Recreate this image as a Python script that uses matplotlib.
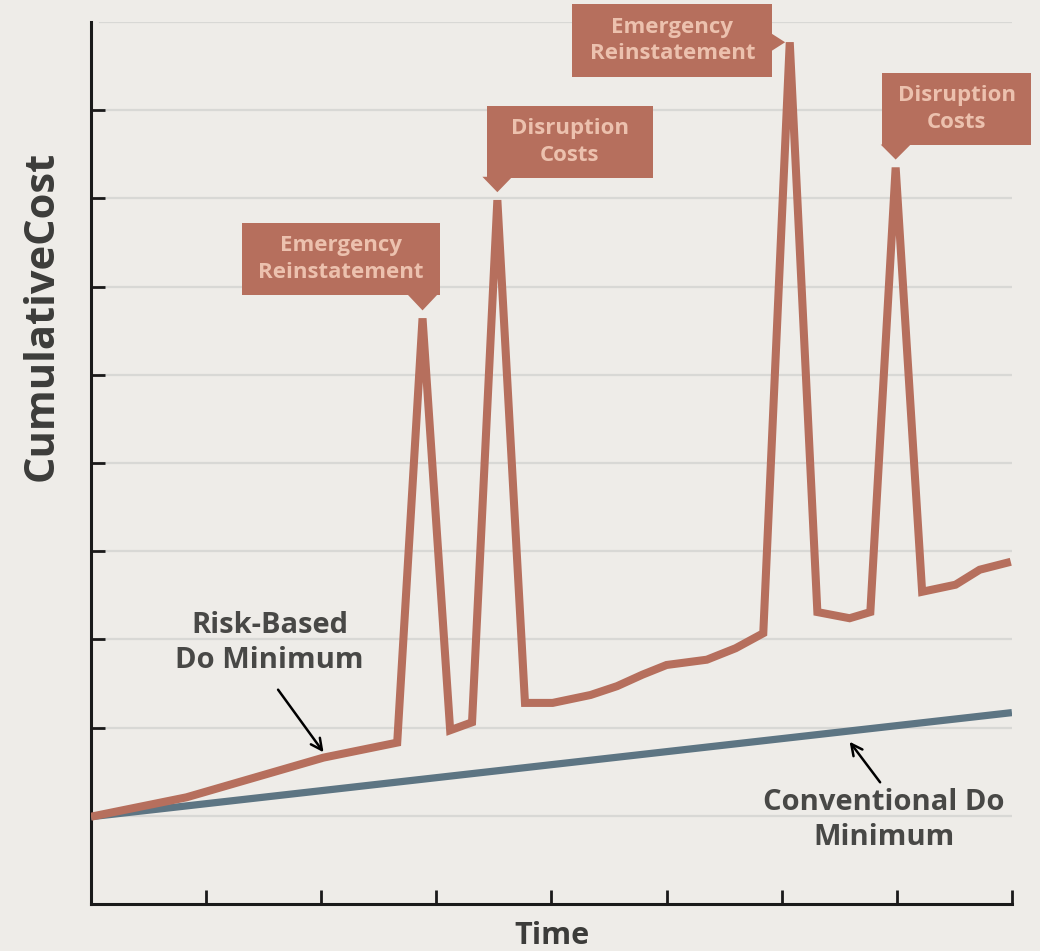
"""
Risk-based vs conventional do-minimum cumulative cost chart
"""
import matplotlib.pyplot as plt
from matplotlib.patches import Rectangle, Polygon

# data (x in time units 0..8, y in cost units 0..10)
conv_x = [0.0, 8.0]
conv_y = [0.99, 2.17]

risk_x = [0.0, 0.83, 2.02, 2.66, 2.88, 3.12, 3.31, 3.53, 3.77, 4.01, 4.34, 4.57,
          4.79, 5.00, 5.35, 5.60, 5.84, 6.07, 6.31, 6.59, 6.77, 6.99, 7.22, 7.51,
          7.72, 7.99]
risk_y = [0.99, 1.21, 1.66, 1.83, 6.64, 1.97, 2.06, 7.98, 2.28, 2.28, 2.37, 2.47,
          2.60, 2.71, 2.77, 2.90, 3.07, 9.77, 3.31, 3.24, 3.31, 8.35, 3.54, 3.62,
          3.79, 3.88]

# callouts: label, index of the peak in risk_x/risk_y, box centre, box size, pointer side
callout_labels = ["Emergency\nReinstatement", "Disruption\nCosts",
                  "Emergency\nReinstatement", "Disruption\nCosts"]
callout_peaks = [4, 7, 17, 21]
callout_centres = [(2.17, 7.31), (4.16, 8.64), (5.05, 9.79), (7.52, 9.01)]
callout_sizes = [(1.72, 0.82), (1.44, 0.81), (1.74, 0.82), (1.29, 0.82)]
callout_sides = ["bottom", "bottom", "right", "bottom"]

BG = "#eeece8"
RED = "#b66f5d"
BLUE = "#5d7583"
TEXT_DARK = "#484846"
BOX_TEXT = "#ecc1ae"

plt.rcParams["font.family"] = ["Open Sans", "DejaVu Sans"]

fig = plt.figure(figsize=(10.4, 9.51), dpi=100, facecolor=BG)
ax = fig.add_axes([0.0875, 0.0494, 0.8855, 0.9275])
ax.set_facecolor(BG)
ax.set_xlim(0, 8)
ax.set_ylim(0, 10)

# grid lines
for gy in range(1, 11):
    ax.axhline(gy, xmin=0.01, xmax=1.0, color="#d8d8d5", lw=1.6, zorder=1)

ax.plot(conv_x, conv_y, color=BLUE, lw=5.2, solid_capstyle="butt", zorder=3)
ax.plot(risk_x, risk_y, color=RED, lw=5.8, solid_joinstyle="miter",
        solid_capstyle="butt", zorder=4)

for s in ["top", "right"]:
    ax.spines[s].set_visible(False)
for s in ["left", "bottom"]:
    ax.spines[s].set_linewidth(2.2)
    ax.spines[s].set_color("#1a1a1a")
ax.set_xticks(range(1, 9))
ax.set_yticks(range(1, 10))
ax.tick_params(direction="in", length=10, width=2, color="#1a1a1a",
               labelleft=False, labelbottom=False)

ax.set_ylabel("CumulativeCost", fontsize=30, fontweight="bold", color="#3c3c3a")
ax.yaxis.set_label_coords(-0.031, 0.667)
ax.set_xlabel("Time", fontsize=22, fontweight="bold", color="#3c3c3a", labelpad=12)

# callout boxes
for label, pk, (cx, cy), (w, h), side in zip(callout_labels, callout_peaks,
                                            callout_centres, callout_sizes,
                                            callout_sides):
    ax.add_patch(Rectangle((cx - w / 2, cy - h / 2), w, h, facecolor=RED,
                           edgecolor="none", clip_on=False, zorder=6))
    px, py = risk_x[pk], risk_y[pk]
    if side == "bottom":
        tip = (px, py + 0.09)
        base = [(px - 0.13, cy - h / 2 + 0.01), (px + 0.13, cy - h / 2 + 0.01)]
    else:
        tip = (px - 0.04, py)
        base = [(cx + w / 2 - 0.01, py + 0.1), (cx + w / 2 - 0.01, py - 0.1)]
    ax.add_patch(Polygon([base[0], tip, base[1]], closed=True, facecolor=RED,
                         edgecolor="none", clip_on=False, zorder=6))
    ax.text(cx, cy, label, ha="center", va="center", fontsize=16,
            fontweight="bold", color=BOX_TEXT, linespacing=1.35, zorder=7)

# line labels
ax.text(1.55, 2.96, "Risk-Based\nDo Minimum", ha="center", va="center",
        fontsize=21, fontweight="bold", color=TEXT_DARK, linespacing=1.28)
ax.annotate("", xy=(2.02, 1.72), xytext=(1.625, 2.43),
            arrowprops=dict(arrowstyle="->", color="black", lw=1.8,
                            shrinkA=0, shrinkB=0, mutation_scale=20))
ax.text(6.89, 0.95, "Conventional Do\nMinimum", ha="center", va="center",
        fontsize=21, fontweight="bold", color=TEXT_DARK, linespacing=1.25)
ax.annotate("", xy=(6.59, 1.84), xytext=(6.855, 1.38),
            arrowprops=dict(arrowstyle="->", color="black", lw=1.8,
                            shrinkA=0, shrinkB=0, mutation_scale=20))

fig.savefig("out.png", dpi=100, facecolor=BG)
